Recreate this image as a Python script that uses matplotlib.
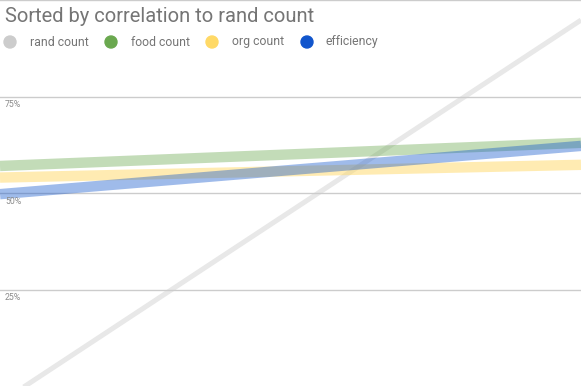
import matplotlib
matplotlib.use("Agg")
import matplotlib.pyplot as plt

W, H = 581, 386
title = "Sorted by correlation to rand count"
series_names = ["rand count", "food count", "org count", "efficiency"]
legend_colors = ["#cccccc", "#6aa84f", "#ffd966", "#1155cc"]
line_colors = ["#cccccc", "#6aa84f", "#ffd966", "#1155cc"]
x_ends = [0.0, 1.0]
rand_vals = [-0.043, 0.948]
food_vals = [0.570, 0.630]
org_vals = [0.540, 0.573]
eff_vals = [0.497, 0.622]
y_ticks = [0.25, 0.50, 0.75]
y_tick_labels = ["25%", "50%", "75%"]

plt.rcParams['font.family'] = ['Roboto', 'DejaVu Sans']
fig = plt.figure(figsize=(W/100, H/100), dpi=100)
ax = fig.add_axes([0, 0, 1, 1])
ax.set_xlim(0, 1)
ax.set_ylim(0, 1)
ax.axis('off')

for yv in y_ticks + [1.0]:
    ax.axhline(yv, color="#cccccc", lw=1.0, zorder=1, clip_on=False)

vals = [rand_vals, food_vals, org_vals, eff_vals]
widths = [3.6, 7.5, 7.5, 7.5]
alphas = [0.45, 0.4, 0.5, 0.4]
for v, c, lw, a in zip(vals, line_colors, widths, alphas):
    ax.plot(x_ends, v, color=c, lw=lw, alpha=a, solid_capstyle='butt', zorder=2)

for yv, lab in zip(y_ticks, y_tick_labels):
    ax.text(5/W, yv - 8/H, lab, fontsize=6.3, color="#8a8a8a", va='center', ha='left',
            transform=ax.transAxes)

fig.text(5/W, 1 - 16/H, title, fontsize=14.5, color="#757575", va='center', ha='left')

leg_circle_x = [10, 111, 212, 307]
leg_text_x = [30, 131, 232, 326]
ly = 1 - 42/H
for name, c, cx, tx in zip(series_names, legend_colors, leg_circle_x, leg_text_x):
    fig.patches.append(matplotlib.patches.Ellipse((cx/W, ly), 12/W, 12/H, color=c,
                                                  transform=fig.transFigure, figure=fig))
    fig.text(tx/W, ly, name, fontsize=8.8, color="#757575", va='center', ha='left')

fig.savefig("out.png", dpi=100)
